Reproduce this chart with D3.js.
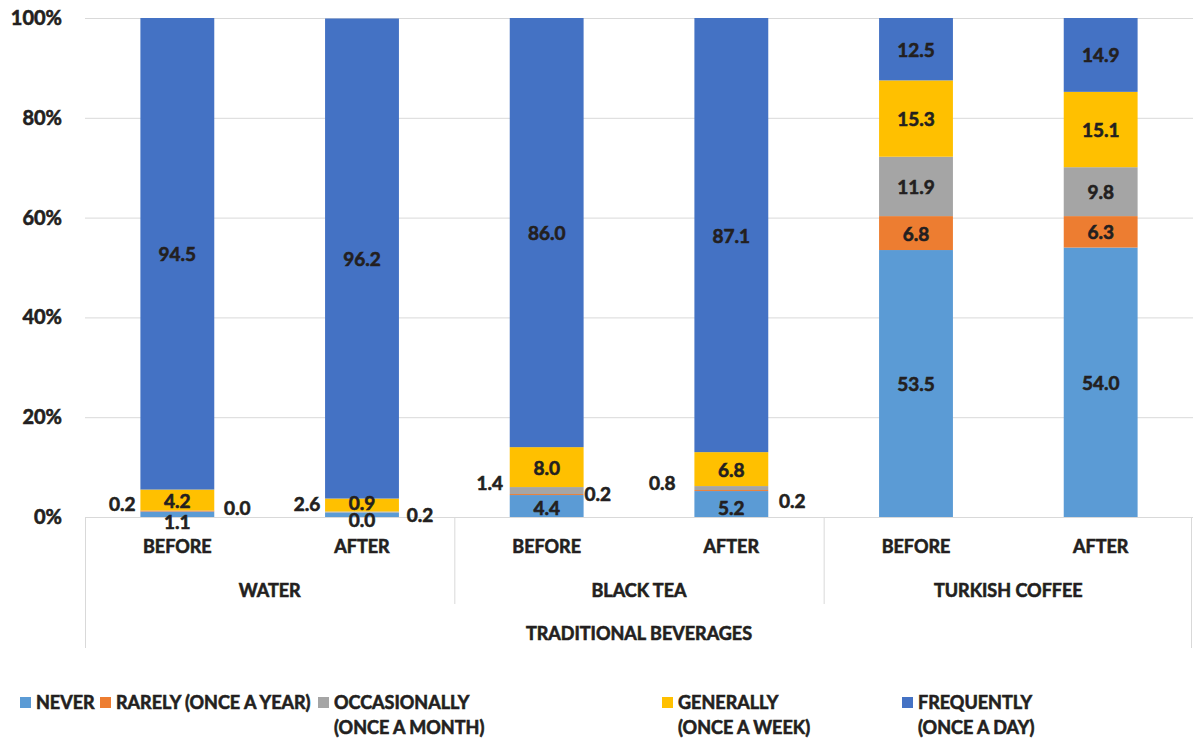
<!DOCTYPE html>
<html>
<head>
<meta charset="utf-8">
<script src="https://cdn.jsdelivr.net/npm/d3@7"></script>
<style>
  html, body { margin: 0; padding: 0; background: #fff; }
  svg text { font-family: Lato, "Open Sans", sans-serif; font-weight: 700; fill: #231f20;
             stroke: #231f20; stroke-width: 0.6px; }
</style>
</head>
<body>
<svg id="chart" width="1193" height="738"></svg>
<script>
// Beverage consumption frequency before / after, percent of respondents
const beverages = ["WATER", "BLACK TEA", "TURKISH COFFEE"];
const periods = ["BEFORE", "AFTER"];
const groupTitle = "TRADITIONAL BEVERAGES";
const seriesKeys = ["never", "rarely", "occasionally", "generally", "frequently"];
const seriesLabels = [
  ["NEVER"],
  ["RARELY (ONCE A YEAR)"],
  ["OCCASIONALLY", "(ONCE A MONTH)"],
  ["GENERALLY", "(ONCE A WEEK)"],
  ["FREQUENTLY", "(ONCE A DAY)"]
];
const never        = [1.1, 0.9, 4.4, 5.2, 53.5, 54.0];
const rarely       = [0.2, 0.0, 0.2, 0.2, 6.8, 6.3];
const occasionally = [0.0, 0.2, 1.4, 0.8, 11.9, 9.8];
const generally    = [4.2, 2.6, 8.0, 6.8, 15.3, 15.1];
const frequently   = [94.5, 96.2, 86.0, 87.1, 12.5, 14.9];
const yTicks = [0, 20, 40, 60, 80, 100];

const colors = {
  never: "#5b9bd5", rarely: "#ed7d31", occasionally: "#a5a5a5",
  generally: "#ffc000", frequently: "#4472c4"
};

// Nudges for labels of thin segments (pixels from the segment centre)
const labelNudge = {
  "0|never": [0, 7], "0|rarely": [-55, -8], "0|occasionally": [60, -3],
  "1|never": [0, -12], "1|rarely": [0, 7], "1|occasionally": [58, 2], "1|generally": [-55, -2],
  "2|never": [0, 1], "2|rarely": [51, -1], "2|occasionally": [-57, -8],
  "3|never": [0, 3], "3|rarely": [61, 10], "3|occasionally": [-69, -6]
};

const seriesValues = { never, rarely, occasionally, generally, frequently };
const rows = [];
beverages.forEach((b, bi) => periods.forEach((p, pi) => {
  const i = bi * periods.length + pi;
  const row = { id: String(i), beverage: b, period: p };
  seriesKeys.forEach(k => row[k] = seriesValues[k][i]);
  rows.push(row);
}));

const svg = d3.select("#chart");
const plotLeft = 85, plotRight = 1193, plotTop = 18, plotBottom = 517;

const x = d3.scaleBand().domain(rows.map(r => r.id)).range([plotLeft, plotRight])
  .paddingInner(0.6).paddingOuter(0.3);
const y = d3.scaleLinear().domain([0, 100]).range([plotBottom, plotTop]);

// gridlines
svg.append("g").selectAll("line").data(yTicks.filter(t => t > 0)).join("line")
  .attr("x1", plotLeft).attr("x2", plotRight)
  .attr("y1", d => y(d) + 0.5).attr("y2", d => y(d) + 0.5)
  .attr("stroke", "#d9d9d9").attr("stroke-width", 1);

// y axis labels
const yAxis = svg.append("g").attr("transform", `translate(${plotLeft},0)`)
  .call(d3.axisLeft(y).tickValues(yTicks).tickFormat(d => d + "%").tickSize(0).tickPadding(23));
yAxis.select(".domain").remove();
yAxis.selectAll("text").attr("font-size", 20).attr("fill", "#231f20")
  .style("font-family", "Lato, sans-serif").style("font-weight", 700);

// stacked bars
const stacked = d3.stack().keys(seriesKeys)(rows);
const barG = svg.append("g");
stacked.forEach(layer => {
  barG.append("g").attr("fill", colors[layer.key]).selectAll("rect").data(layer).join("rect")
    .attr("x", d => x(d.data.id))
    .attr("width", x.bandwidth())
    .attr("y", d => y(Math.min(100, d[1])))
    .attr("height", d => Math.max(0, y(d[0]) - y(Math.min(100, d[1]))));
});

// category axis boxes
const axG = svg.append("g").attr("stroke", "#d9d9d9").attr("stroke-width", 1);
axG.append("line").attr("x1", plotLeft).attr("x2", plotRight).attr("y1", plotBottom + 0.5).attr("y2", plotBottom + 0.5);
const step = x.step();
const groupEdges = beverages.map((b, i) => plotLeft + i * step * periods.length);
groupEdges.concat([plotRight]).forEach((gx, i, arr) => {
  const outer = i === 0 || i === arr.length - 1;
  const xx = i === arr.length - 1 ? gx - 1.5 : gx + 0.5;
  axG.append("line").attr("x1", xx).attr("x2", xx)
    .attr("y1", plotBottom).attr("y2", outer ? 648 : 604);
});

// data labels
const labG = svg.append("g");
stacked.forEach(layer => {
  layer.forEach(d => {
    const key = d.data.id + "|" + layer.key;
    const nudge = labelNudge[key] || [0, 0];
    const cx = x(d.data.id) + x.bandwidth() / 2 + nudge[0];
    const cy = (y(d[0]) + y(Math.min(100, d[1]))) / 2 + nudge[1];
    labG.append("text").attr("x", cx).attr("y", cy)
      .attr("text-anchor", "middle").attr("dominant-baseline", "central")
      .attr("font-size", 19)
      .text(d3.format(".1f")(d.data[layer.key]));
  });
});

// category labels
const catG = svg.append("g").attr("font-size", 18).attr("text-anchor", "middle");
rows.forEach(r => {
  catG.append("text").attr("x", x(r.id) + x.bandwidth() / 2).attr("y", 546)
    .attr("dominant-baseline", "central").text(r.period);
});
beverages.forEach((b, i) => {
  catG.append("text").attr("x", groupEdges[i] + step).attr("y", 590)
    .attr("dominant-baseline", "central").text(b);
});
catG.append("text").attr("x", (plotLeft + plotRight) / 2).attr("y", 633)
  .attr("dominant-baseline", "central").text(groupTitle);

// legend
const legendX = [20, 100, 318, 662, 902];
const legG = svg.append("g");
seriesKeys.forEach((k, i) => {
  const g = legG.append("g").attr("transform", `translate(${legendX[i]},0)`);
  g.append("rect").attr("x", 0).attr("y", 697).attr("width", 11).attr("height", 11).attr("fill", colors[k]);
  seriesLabels[i].forEach((line, li) => {
    g.append("text").attr("x", 16).attr("y", 702 + li * 25)
      .attr("dominant-baseline", "central").attr("font-size", 18).text(line);
  });
});
</script>
</body>
</html>
